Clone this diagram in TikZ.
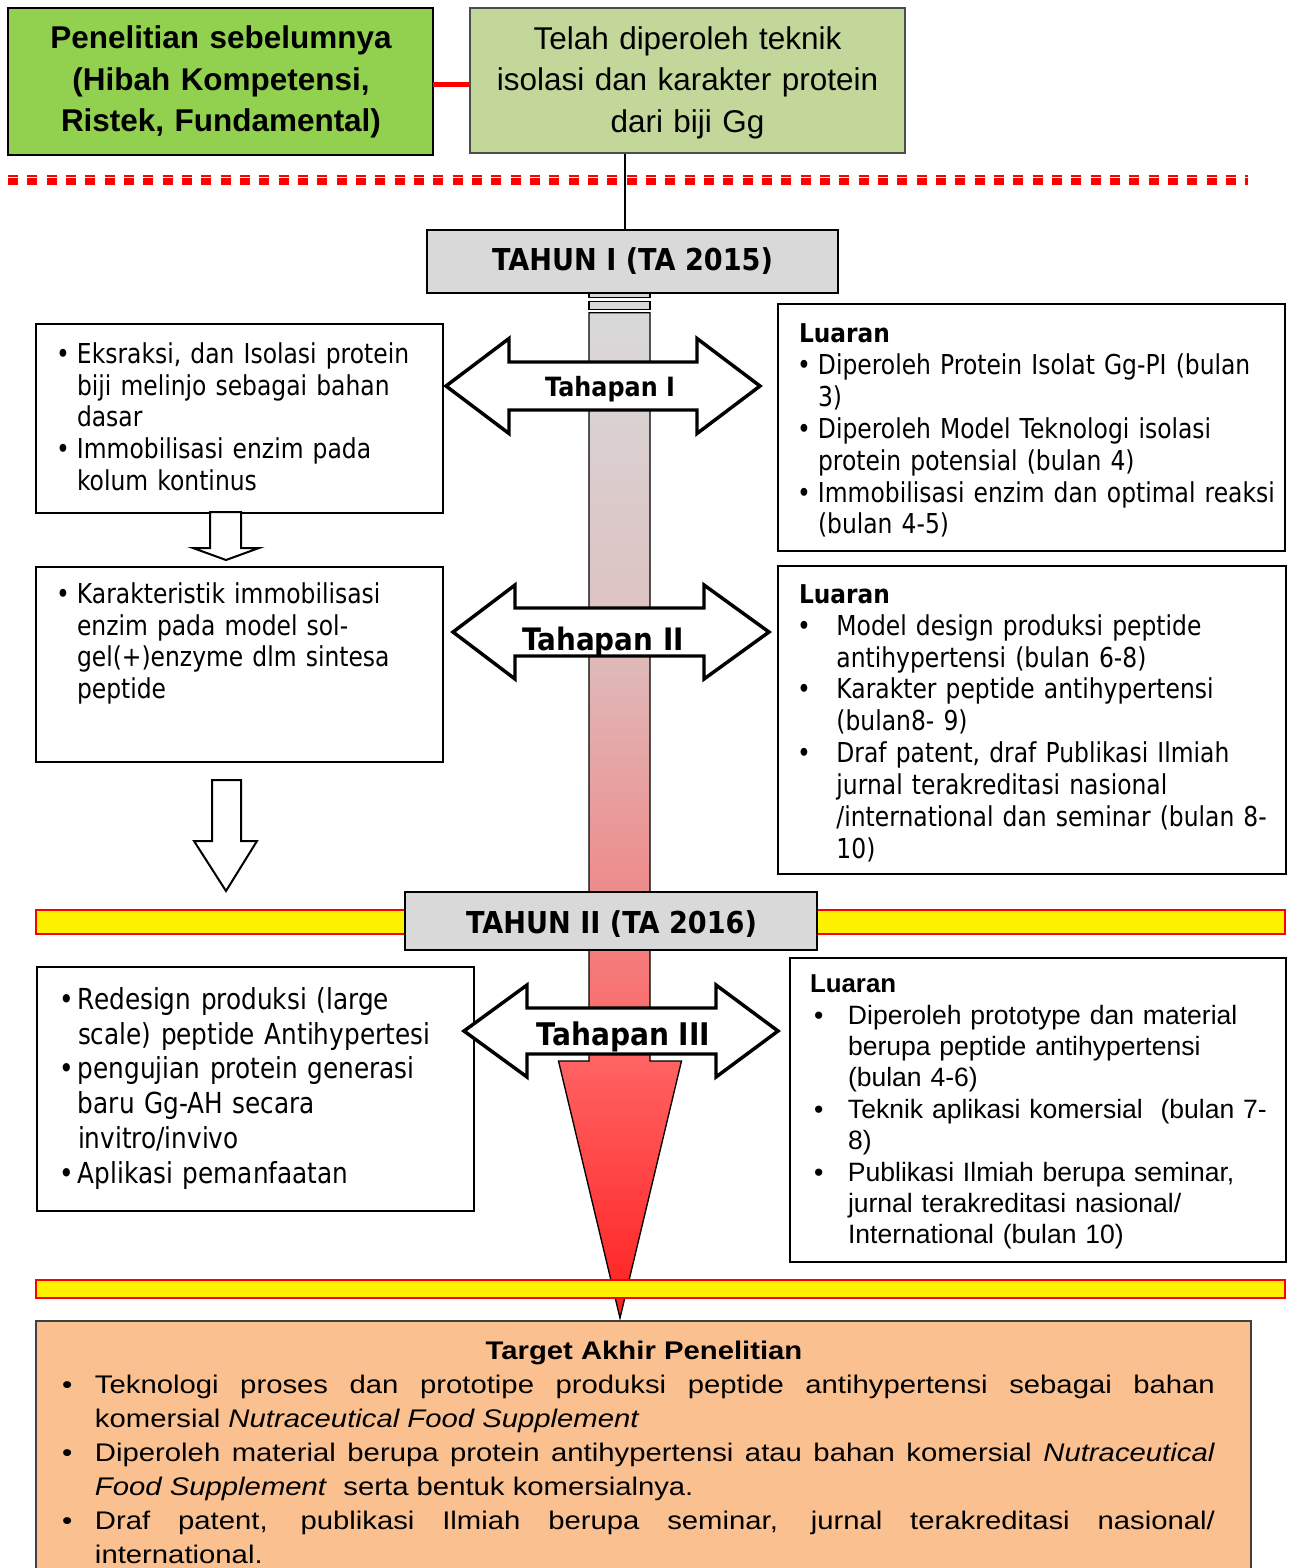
\documentclass[tikz,border=0pt]{standalone}
\usepackage{fontspec}
\setmainfont{Liberation Sans}
\newfontfamily\ari{Liberation Sans}
\newfontfamily\arw[FakeStretch=1.15]{Liberation Sans}
\newfontfamily\tah[FakeStretch=0.855]{DejaVu Sans}
\newfontfamily\tahb[FakeStretch=0.9]{DejaVu Sans}
\newcommand{\fsz}[2]{\fontsize{#1}{#2}\selectfont}
\newcommand{\hit}[3]{\noindent\hangindent=#2\hangafter=1\makebox[#2][l]{\hspace*{#1}•}#3\par}
\definecolor{cgreen}{HTML}{92D050}
\definecolor{clgreen}{HTML}{C4D79B}
\definecolor{cgray}{HTML}{D9D9D9}
\definecolor{cpeach}{HTML}{FAC090}
\definecolor{cb0}{HTML}{D9D9D9}
\definecolor{cb1}{HTML}{DDC2C2}
\definecolor{cb2}{HTML}{EE8C8C}
\definecolor{cb3}{HTML}{FF6262}
\definecolor{cb4}{HTML}{FF1E1E}
\pgfdeclareverticalshading{barshade}{100bp}{color(0bp)=(cb4); color(25bp)=(cb4); color(37.7bp)=(cb3); color(46.5bp)=(cb2); color(60bp)=(cb1); color(75bp)=(cb0); color(100bp)=(cb0)}
\begin{document}
\begin{tikzpicture}[x=0.75pt,y=-0.75pt,line join=miter,
  txt/.style={inner sep=0pt, outer sep=0pt, anchor=base west, align=left},
  boxnode/.style={rectangle, inner sep=0pt, outer sep=0pt},
  lbox/.style={boxnode, draw=black, line width=1.1pt, fill=white},
  rbox/.style={boxnode, draw=black, line width=1.5pt, fill=white},
  tbox/.style={boxnode, draw=black, line width=1.7pt, fill=cgray},
  ttxt/.style={anchor=base, inner sep=0pt, font=\tahb\bfseries\fsz{22.6}{26}},
  dbl/.style={draw=black, fill=white, line width=2.6pt},
  darrow/.style={draw=black, fill=white, line width=1.5pt},
  band/.style={fill=yellow, draw=red, line width=0.9pt}]
\useasboundingbox (0,0) rectangle (1293,1568);
\fill[white] (0,0) rectangle (1293,1568);

% red double dashed separator
\draw[red, line width=5pt, dash pattern=on 7.5pt off 7pt] (8,181.7) -- (1248,181.7);
\draw[red, line width=1.3pt, dash pattern=on 7.5pt off 7pt] (8,175.8) -- (1248,175.8);

% top boxes
\node[boxnode, draw=black, line width=1.8pt, fill=cgreen, minimum width=318.75pt, minimum height=110.25pt] (g) at (220.5,81.5) {};
\node[anchor=base, inner sep=0pt, text width=300pt, align=center, font=\ari\bfseries\fsz{23.6}{31.2}] (gt) at (221,48.5) {Penelitian sebelumnya\\(Hibah Kompetensi,\\Ristek, Fundamental)};
\node[boxnode, draw=black!70, line width=1.5pt, fill=clgreen, minimum width=326.25pt, minimum height=108.75pt] (lg) at (687.5,80.5) {};
\node[anchor=base, inner sep=0pt, text width=320pt, align=center, font=\ari\fsz{23.6}{31.2}] (lgt) at (687.5,49) {Telah diperoleh teknik\\isolasi dan karakter protein\\dari biji Gg};
\draw[red, line width=4.2pt] ([yshift=-2.25pt]g.east) -- ([yshift=-3pt]lg.west);

% TAHUN I
\node[tbox, minimum width=308.25pt, minimum height=47.25pt] (t1) at (632.5,261.5) {};
\node[ttxt] (t1t) at (632.5,270) {TAHUN I (TA 2015)};
\coordinate (vl) at (625,154);
\draw[line width=1pt] (vl) -- (vl |- t1.north);

% central gradient arrow
\filldraw[fill=cgray, draw=black, line width=0.9pt] (589,293.5) rectangle (650,297.5);
\filldraw[fill=cgray, draw=black, line width=0.9pt] (589,301.3) rectangle (650,309.3);
\shadedraw[shading=barshade, draw=black, line width=1pt] (589,312.7) -- (650,312.7) -- (650,1061) -- (681.5,1061) -- (620,1318) -- (558.5,1061) -- (589,1061) -- cycle;

% TAHUN II with band
\path[band] (36,910) rectangle (1285,934);
\node[tbox, minimum width=309pt, minimum height=43.5pt] (t2) at (611,921) {};
\node[ttxt] (t2t) at (611.5,933) {TAHUN II (TA 2016)};
\path[band] (36,1280) rectangle (1285,1298);

% left boxes
\node[lbox, minimum width=305.25pt, minimum height=141.75pt] (lb1) at (239.5,418.5) {};
\node[txt, text width=300pt, font=\tah\fsz{20.55}{23.8}] (lb1t) at (56,363.3) {\hit{0pt}{15.75pt}{Eksraksi, dan Isolasi protein\newline biji melinjo sebagai bahan\newline dasar}\hit{0pt}{15.75pt}{Immobilisasi enzim pada\newline kolum kontinus}};
\node[lbox, minimum width=305.25pt, minimum height=146.25pt] (lb2) at (239.5,664.5) {};
\node[txt, text width=300pt, font=\tah\fsz{20.55}{23.8}] (lb2t) at (56,603.3) {\hit{0pt}{15.75pt}{Karakteristik immobilisasi\newline enzim pada model sol-\newline gel(+)enzyme dlm sintesa\newline peptide}};
\node[lbox, minimum width=327.75pt, minimum height=183pt] (lb3) at (255.5,1089) {};
\node[txt, text width=330pt, font=\tah\fsz{21.7}{26.1}] (lb3t) at (60,1009.3) {\hit{0pt}{13.5pt}{Redesign produksi (large\newline scale) peptide Antihypertesi}\hit{0pt}{13.5pt}{pengujian protein generasi\newline baru Gg-AH secara\newline invitro/invivo}\hit{0pt}{13.5pt}{Aplikasi pemanfaatan}};

% right boxes
\node[rbox, minimum width=380.25pt, minimum height=185.25pt] (rb1) at (1031.5,427.5) {};
\node[txt, text width=370pt, font=\tah\fsz{20.55}{23.9}] (rb1t) at (799,342.7) {{\tahb\bfseries\fsz{19.4}{23.9}Luaran}\par\hit{-1.5pt}{14.25pt}{Diperoleh Protein Isolat Gg-PI (bulan\newline 3)}\hit{-1.5pt}{14.25pt}{Diperoleh Model Teknologi isolasi\newline protein potensial (bulan 4)}\hit{-1.5pt}{14.25pt}{Immobilisasi enzim dan optimal reaksi\newline (bulan 4-5)}};
\node[rbox, minimum width=381pt, minimum height=231pt] (rb2) at (1032,720) {};
\node[txt, text width=370pt, font=\tah\fsz{20.55}{23.9}] (rb2t) at (799,603.3) {{\tahb\bfseries\fsz{19.4}{23.9}Luaran}\par\hit{-1.5pt}{28.1pt}{Model design produksi peptide\newline antihypertensi (bulan 6-8)}\hit{-1.5pt}{28.1pt}{Karakter peptide antihypertensi\newline (bulan8- 9)}\hit{-1.5pt}{28.1pt}{Draf patent, draf Publikasi Ilmiah\newline jurnal terakreditasi nasional\newline /international dan seminar (bulan 8-\newline 10)}};
\node[rbox, minimum width=372pt, minimum height=228pt] (rb3) at (1038,1110) {};
\node[txt, text width=365pt, font=\ari\fsz{19.9}{23.55}] (rb3t) at (810,992.7) {{\ari\bfseries\fsz{19.4}{23.55}Luaran}\par\hit{3pt}{28.5pt}{Diperoleh prototype dan material\newline berupa peptide antihypertensi\newline (bulan 4-6)}\hit{3pt}{28.5pt}{Teknik aplikasi komersial\ \ (bulan 7-\newline 8)}\hit{3pt}{28.5pt}{Publikasi Ilmiah berupa seminar,\newline jurnal terakreditasi nasional/\newline International (bulan 10)}};

% Tahapan double arrows
\path[dbl] (446,386) -- (509,338.5) -- (509,362) -- (697,362) -- (697,338.5) -- (760,386) -- (697,433.5) -- (697,410) -- (509,410) -- (509,433.5) -- cycle;
\node[ttxt, font=\tahb\bfseries\fsz{19.9}{24}] (tp1) at (610,396.7) {Tahapan I};
\path[dbl] (453,632) -- (515,585) -- (515,608) -- (704,608) -- (704,585) -- (769,632) -- (704,679) -- (704,656) -- (515,656) -- (515,679) -- cycle;
\node[ttxt, font=\tahb\bfseries\fsz{23.2}{26}] (tp2) at (603,650) {Tahapan II};
\path[dbl] (464,1031) -- (527,985) -- (527,1008) -- (716,1008) -- (716,985) -- (778,1031) -- (716,1077) -- (716,1054) -- (527,1054) -- (527,1077) -- cycle;
\node[ttxt, font=\tahb\bfseries\fsz{23.4}{26}] (tp3) at (623.5,1045) {Tahapan III};

% down block arrows
\path[darrow] (210,512) -- (241,512) -- (241,548) -- (259,548) -- (226,560) -- (193,548) -- (210,548) -- cycle;
\path[darrow] (212,780) -- (241,780) -- (241,841) -- (257,841) -- (226,891) -- (194,841) -- (212,841) -- cycle;

% bottom target box
\node[boxnode, draw=black!75, line width=1.1pt, fill=cpeach, minimum width=911.25pt, minimum height=209.25pt] (tb) at (643.5,1460.5) {};
\node[anchor=base, inner sep=0pt, font=\arw\bfseries\fsz{19.1}{25.8}] (tgt) at (644,1359) {Target Akhir Penelitian};
\node[txt, text width=864.75pt, align=justify, font=\arw\fsz{19.1}{25.6}] (tbt) at (62,1393) {\hit{0pt}{24.75pt}{Teknologi proses dan prototipe produksi peptide antihypertensi sebagai bahan\linebreak komersial \textit{Nutraceutical Food Supplement}}\hit{0pt}{24.75pt}{Diperoleh material berupa protein antihypertensi atau bahan komersial \textit{Nutraceutical}\linebreak \textit{Food Supplement}\ \ serta bentuk komersialnya.}\hit{0pt}{24.75pt}{Draf patent, publikasi Ilmiah berupa seminar, jurnal terakreditasi nasional/\linebreak international.}};
\end{tikzpicture}
\end{document}
